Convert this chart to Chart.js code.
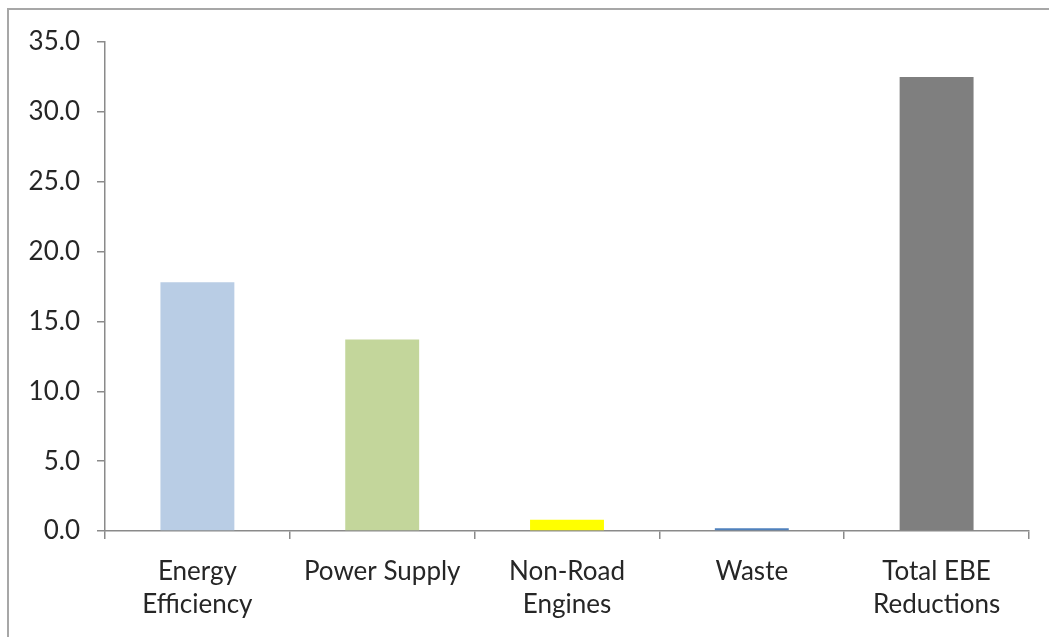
<!DOCTYPE html>
<html>
<head>
<meta charset="utf-8">
<script src="https://cdn.jsdelivr.net/npm/chart.js@4/dist/chart.umd.min.js"></script>
<style>
  html, body { margin: 0; padding: 0; background: #ffffff; overflow: hidden; }
  #frame {
    position: absolute; left: 7px; top: 8px; width: 1100px; height: 700px;
    border-left: 2px solid #a7a7a7; border-top: 2px solid #a7a7a7;
  }
  #chart { position: absolute; left: 0; top: 0; }
</style>
</head>
<body>
<div id="frame"></div>
<canvas id="chart" width="1049" height="637"></canvas>
<script>
// Emission reductions by sector
const categories = [["Energy", "Efficiency"], "Power Supply", ["Non-Road", "Engines"], "Waste", ["Total EBE", "Reductions"]];
const reductions = [17.8, 13.7, 0.8, 0.2, 32.5];
const barColors = ["#b9cde5", "#c3d69b", "#ffff00", "#4f81bd", "#7f7f7f"];
const yTicks = [0, 5, 10, 15, 20, 25, 30, 35];

const axisColor = "#8a8a8a";
const labelFont = { family: "Lato, 'Open Sans', sans-serif", size: 26, lineHeight: 1.27 };

new Chart(document.getElementById("chart"), {
  type: "bar",
  data: {
    labels: categories,
    datasets: [{
      data: reductions,
      backgroundColor: barColors,
      borderWidth: 0,
      categoryPercentage: 1.0,
      barPercentage: 0.4
    }]
  },
  options: {
    responsive: false,
    animation: false,
    layout: { padding: { left: 0, right: 20, top: 42, bottom: 0 } },
    plugins: { legend: { display: false }, tooltip: { enabled: false } },
    scales: {
      x: {
        grid: { display: true, drawOnChartArea: false, offset: true, color: axisColor, lineWidth: 1.5, tickLength: 8 },
        border: { display: true, color: axisColor, width: 1.5 },
        ticks: { color: "#262626", font: labelFont, padding: 16, maxRotation: 0, autoSkip: false },
        afterFit: (s) => { s.height = 106; }
      },
      y: {
        min: yTicks[0],
        max: yTicks[yTicks.length - 1],
        afterBuildTicks: (s) => { s.ticks = yTicks.map(v => ({ value: v })); },
        grid: { display: true, drawOnChartArea: false, color: axisColor, lineWidth: 1.5, tickLength: 8 },
        border: { display: true, color: axisColor, width: 1.5 },
        ticks: { color: "#262626", font: labelFont, padding: 17, callback: (v) => Number(v).toFixed(1) },
        afterFit: (s) => { s.width = 105; }
      }
    }
  }
});
</script>
</body>
</html>
